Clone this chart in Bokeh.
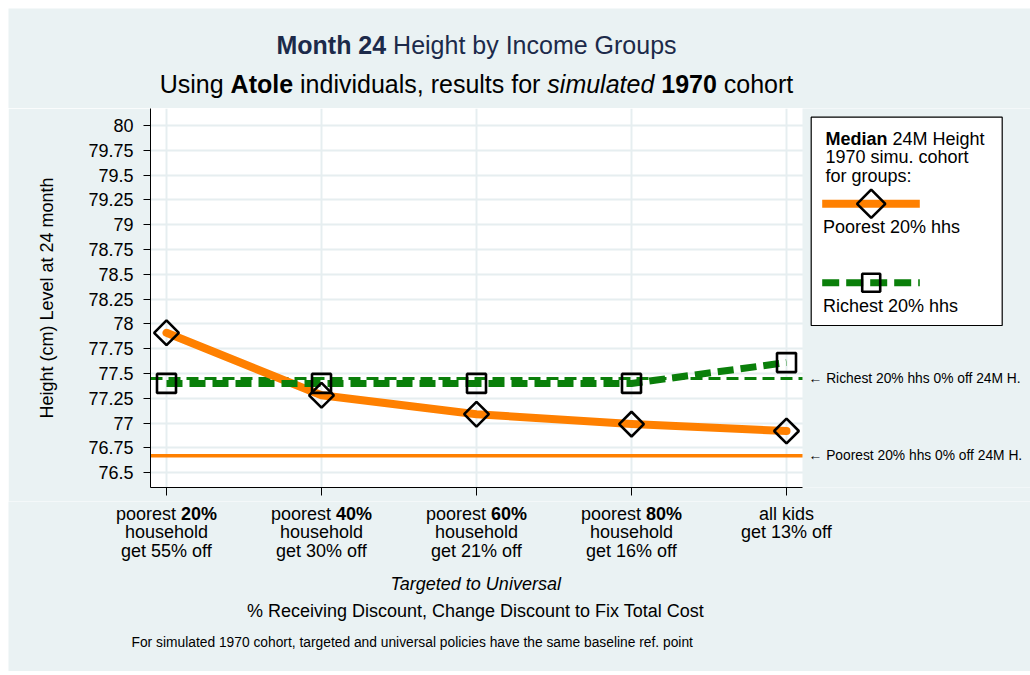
import numpy as np
from bokeh.plotting import figure
from bokeh.layouts import column
from bokeh.models import Range1d, FixedTicker, Label
from bokeh.embed import file_html
from bokeh.resources import INLINE

# ---------------- data ----------------
x_pos = [1, 2, 3, 4, 5]
group_pct = ["20%", "40%", "60%", "80%", None]
discounts = ["55%", "30%", "21%", "16%", "13%"]
poorest_median = [77.91, 77.28, 77.09, 76.99, 76.92]
richest_median = [77.40, 77.40, 77.40, 77.40, 77.61]
poorest_baseline = 76.67
richest_baseline = 77.45
y_ticks = [76.5, 76.75, 77.0, 77.25, 77.5, 77.75, 78.0, 78.25, 78.5, 78.75, 79.0, 79.25, 79.5, 79.75, 80.0]
y_tick_labels = ["76.5", "76.75", "77", "77.25", "77.5", "77.75", "78", "78.25", "78.5", "78.75",
                 "79", "79.25", "79.5", "79.75", "80"]

# ---------------- style ----------------
BG = "#EAF2F3"
GRID = "#E6EEF0"
ORANGE = "#FF8000"
GREEN = "#0A7F0A"
NAVY = "#1C2A4A"
FONT = "Liberation Sans"

# page-pixel -> data helpers (layout only)
def X(px):
    return 1 + (px - 166) / 155.0

def Y(py):
    return 80 - (py - 125) / 99.2

W = 1022             # page 8 .. 1030
TOP_H = 100          # page 8 .. 108
MAIN_H = 393         # page 108 .. 501
BOT_H = 170          # page 501 .. 671


def blank_fig(h, y0, y1):
    f = figure(width=W, height=h, output_backend="svg", toolbar_location=None,
               x_range=Range1d(X(8), X(8 + W)), y_range=Range1d(y1, y0),
               x_axis_location=None, y_axis_location=None, min_border=0, frame_align=False,
               background_fill_color=BG, border_fill_color=BG, outline_line_color=None)
    f.grid.visible = False
    return f


top = blank_fig(TOP_H, 8, 108)
bot = blank_fig(BOT_H, 501, 501 + BOT_H)

p = figure(width=W, height=MAIN_H, output_backend="svg", toolbar_location=None,
           x_range=Range1d(X(150), X(8 + W)), y_range=Range1d(Y(487), Y(108)),
           min_border_left=142, min_border_right=0, min_border_top=0, min_border_bottom=14,
           frame_align=False,
           background_fill_color="white", border_fill_color=BG, outline_line_color=None)

# axes
p.xaxis.ticker = FixedTicker(ticks=x_pos)
p.xaxis.bounds = (X(150), X(802))
p.xaxis.major_label_text_color = None
p.xaxis.major_label_text_font_size = "1px"
p.xaxis.major_label_standoff = 0
p.xaxis.major_tick_out = 8
p.xaxis.major_tick_in = 0
p.xaxis.minor_tick_line_color = None
p.xaxis.axis_line_color = "black"
p.xaxis.major_tick_line_color = "black"

p.yaxis.ticker = FixedTicker(ticks=y_ticks)
p.yaxis.major_label_overrides = {t: l for t, l in zip(y_ticks, y_tick_labels)}
p.yaxis.major_label_text_font = FONT
p.yaxis.major_label_text_font_size = "18px"
p.yaxis.major_label_text_color = "black"
p.yaxis.major_tick_out = 7
p.yaxis.major_tick_in = 0
p.yaxis.major_label_standoff = 10
p.yaxis.minor_tick_line_color = None
p.yaxis.axis_line_color = "black"
p.yaxis.major_tick_line_color = "black"
p.yaxis.axis_label = "Height (cm) Level at 24 month"
p.yaxis.axis_label_text_font = FONT
p.yaxis.axis_label_text_font_size = "18px"
p.yaxis.axis_label_text_font_style = "normal"
p.yaxis.axis_label_text_color = "black"
p.yaxis.axis_label_standoff = 28

p.xgrid.ticker = FixedTicker(ticks=x_pos)
p.ygrid.ticker = FixedTicker(ticks=y_ticks)
p.grid.grid_line_color = GRID
p.grid.grid_line_width = 2

# cover right margin area inside frame (legend zone)
p.quad(left=X(802), right=X(1080), bottom=Y(520), top=Y(90), fill_color=BG, line_color=None)

# reference lines
x0, x1 = X(150), X(802)
p.segment(x0=[x0], x1=[x1], y0=[poorest_baseline], y1=[poorest_baseline], line_color=ORANGE, line_width=3.5)
p.segment(x0=[x0], x1=[x1], y0=[richest_baseline], y1=[richest_baseline], line_color=GREEN, line_width=3,
          line_dash="12 6")

# series
p.line(x_pos, poorest_median, line_color=ORANGE, line_width=8, line_cap="round", line_join="round")
p.line(x_pos, richest_median, line_color=GREEN, line_width=7, line_dash="16 7")
p.scatter(x_pos, poorest_median, marker="square", angle=np.pi / 4, size=17.5, fill_color=None,
          line_color="black", line_width=2.6)
p.scatter(x_pos, richest_median, marker="square", size=19, fill_color=None,
          line_color="black", line_width=2.6)

# legend box
p.quad(left=X(810.7), right=X(1001.7), top=Y(116.7), bottom=Y(325), fill_color="white",
       line_color="black", line_width=1.2)
p.line([X(821.7), X(919.3)], [Y(203.3)] * 2, line_color=ORANGE, line_width=8)
p.scatter([X(870.7)], [Y(203.3)], marker="square", angle=np.pi / 4, size=20, fill_color=None,
          line_color="black", line_width=2.6)
p.line([X(821.7), X(919.3)], [Y(282.3)] * 2, line_color=GREEN, line_width=7, line_dash="17 7")
p.scatter([X(870.7)], [Y(282.3)], marker="square", size=18, fill_color=None,
          line_color="black", line_width=2.6)

# ---------------- text helpers ----------------
REG = {' ': 278, ',': 278, '.': 278, '%': 889, ':': 278, '(': 333, ')': 333,
       'a': 556, 'b': 556, 'c': 500, 'd': 556, 'e': 556, 'f': 278, 'g': 556, 'h': 556, 'i': 222,
       'j': 222, 'k': 500, 'l': 222, 'm': 833, 'n': 556, 'o': 556, 'p': 556, 'q': 556, 'r': 333,
       's': 500, 't': 278, 'u': 556, 'v': 500, 'w': 722, 'x': 500, 'y': 500, 'z': 500,
       'A': 667, 'C': 722, 'D': 722, 'F': 611, 'G': 778, 'H': 722, 'I': 278, 'M': 833, 'P': 667,
       'R': 722, 'T': 611, 'U': 722}
BOLD = {' ': 278, '%': 889, 'M': 833, 'A': 722, 'a': 556, 'd': 611, 'e': 556, 'i': 278, 'l': 278,
        'n': 611, 'o': 611, 't': 333, 'h': 611}


def tw(t, style, size):
    tab = BOLD if style == "bold" else REG
    return sum(tab.get(c, 556) for c in t) * size / 1000.0


def seg_text(fig, parts, x, y, size, align="center", color="black"):
    total = sum(tw(t, s, size) for t, s in parts)
    off = -total / 2.0 if align == "center" else 0.0
    for t, s in parts:
        lead = len(t) - len(t.lstrip(" "))
        core = t.strip(" ")
        if core:
            fig.add_layout(Label(x=x, y=y, x_offset=off + lead * 278 * size / 1000.0, text=core,
                                 text_font=FONT, text_font_size=f"{size}px", text_font_style=s,
                                 text_color=color, text_align="left", text_baseline="middle"))
        off += tw(t, s, size)


# titles (top figure: y in page pixels)
seg_text(top, [("Month 24", "bold"), (" Height by Income Groups", "normal")], X(476), 44, 25, color=NAVY)
seg_text(top, [("Using ", "normal"), ("Atole", "bold"), (" individuals, results for ", "normal"),
               ("simulated", "italic"), (" ", "normal"), ("1970", "bold"), (" cohort", "normal")],
         X(476), 83, 25)

# x category labels (bottom figure: y in page pixels)
for xi, pct, disc in zip(x_pos, group_pct, discounts):
    if pct is not None:
        seg_text(bot, [("poorest ", "normal"), (pct, "bold")], xi, 513.3, 18)
        seg_text(bot, [("household", "normal")], xi, 531.7, 18)
        seg_text(bot, [(f"get {disc} off", "normal")], xi, 550, 18)
    else:
        seg_text(bot, [("all kids", "normal")], xi, 513.3, 18)
        seg_text(bot, [(f"get {disc} off", "normal")], xi, 531.7, 18)

seg_text(bot, [("Targeted to Universal", "italic")], X(476), 583, 18)
seg_text(bot, [("% Receiving Discount, Change Discount to Fix Total Cost", "normal")], X(476), 610.7, 18)
seg_text(bot, [("For simulated 1970 cohort, targeted and universal policies have the same baseline ref. point",
                "normal")], X(131), 641.7, 13.8, align="left")

# legend text
seg_text(p, [("Median", "bold"), (" 24M Height", "normal")], X(825), Y(138.3), 18, align="left")
seg_text(p, [("1970 simu. cohort", "normal")], X(825), Y(156.7), 18, align="left")
seg_text(p, [("for groups:", "normal")], X(825), Y(175), 18, align="left")
seg_text(p, [("Poorest 20% hhs", "normal")], X(822.5), Y(226.7), 18, align="left")
seg_text(p, [("Richest 20% hhs", "normal")], X(822.5), Y(305), 18, align="left")

# reference-line annotations
p.add_layout(Label(x=X(808), y=richest_baseline, text="\u2190 Richest 20% hhs 0% off 24M H.",
                   text_font=FONT, text_font_size="13.8px", text_color="black",
                   text_align="left", text_baseline="middle"))
p.add_layout(Label(x=X(808), y=poorest_baseline, text="\u2190 Poorest 20% hhs 0% off 24M H.",
                   text_font=FONT, text_font_size="13.8px", text_color="black",
                   text_align="left", text_baseline="middle"))

layout = column(top, p, bot, spacing=0, margin=(8, 0, 0, 8))
open("out.html", "w").write(file_html(layout, INLINE))
